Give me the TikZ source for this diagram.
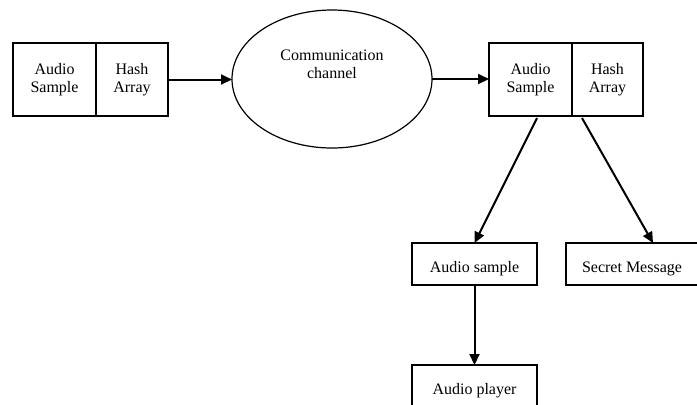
\documentclass[tikz,border=0pt]{standalone}
\usepackage{fontspec}
\setmainfont{Liberation Serif}
\usetikzlibrary{calc}
\usetikzlibrary{positioning}
\usetikzlibrary{shapes.geometric}
\usetikzlibrary{arrows.meta}

\begin{document}
\begin{tikzpicture}[x=0.5pt, y=-0.5pt,
        every node/.style={font=\fontsize{8}{9}\selectfont, inner sep=0pt, outer sep=0pt},
        cell/.style={draw, line width=0.6pt, minimum height=36.5pt, align=center},
        box/.style={draw, line width=0.6pt, minimum height=21pt, minimum width=62.5pt,
            text height=8pt, text depth=0pt},
        link/.style={line width=1pt, -{Triangle[length=5.5pt, width=5pt]}}]

        \def\d{40pt}

        % Keep the page to the size of the original
        \clip (0, 0) rectangle (697, 404);

        % Sender side, channel and receiver side
        \begin{scope}
            \node[cell, minimum width=41.5pt] (S1) at (54.5, 79.5)
            {Audio\\Sample};
            \node[cell, minimum width=36pt, right=0pt of S1] (H1)
            {Hash\\Array};

            \node[draw, ellipse, line width=0.6pt, minimum width=100pt,
                minimum height=69pt] (Ch) at (332, 79) {};
            \node[align=center] (ChLbl) at (332, 64)
            {Communication\\channel};

            \node[cell, minimum width=41.5pt] (S2) at (530.5, 79.5)
            {Audio\\Sample};
            \node[cell, minimum width=35.5pt, right=0pt of S2] (H2)
            {Hash\\Array};
        \end{scope}

        % Outputs
        \begin{scope}
            \node[box] (Smp) at (474.5, 264) {Audio sample};
            \node[box, minimum width=66pt] (Msg) at (632, 264) {Secret Message};
            \node[box, below=\d of Smp] (Ply) {Audio player};
        \end{scope}

        \begin{scope}
            \draw[link] (H1.east) -- (H1.east -| Ch.west);
            \draw[link] (Ch.east) -- (Ch.east -| S2.west);
            \draw[link] ($(S2.south)+(6.5, 2)$) -- (Smp.north);
            \draw[link] ($(H2.south)+(-25.5, 2)$) -- ($(Msg.north)+(21, 0)$);
            \draw[link] (Smp) -- (Ply);
        \end{scope}

\end{tikzpicture}
\end{document}
